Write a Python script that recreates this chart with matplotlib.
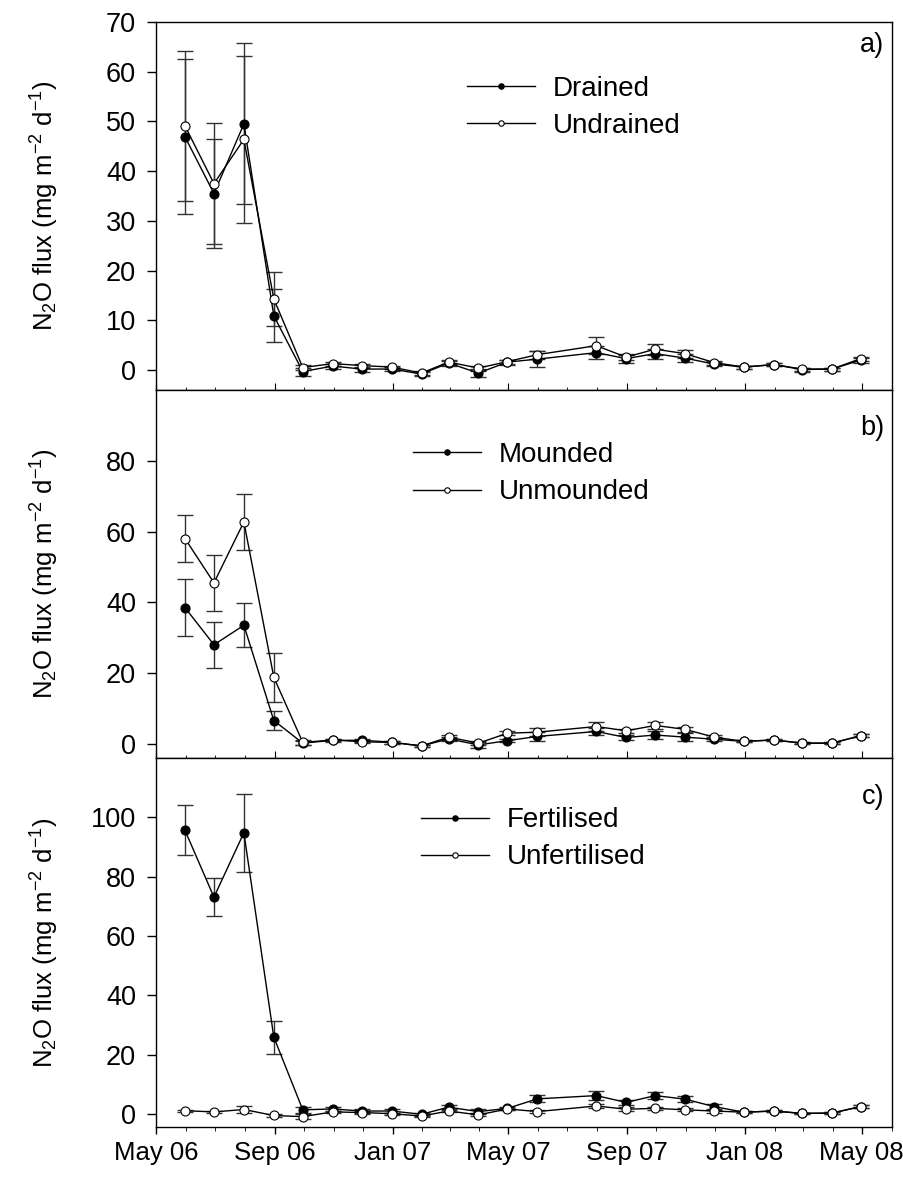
import matplotlib
matplotlib.use("Agg")
import matplotlib.pyplot as plt
import matplotlib.dates as mdates
import numpy as np
from datetime import datetime

plt.rcParams['font.family'] = ['Liberation Sans', 'DejaVu Sans']
plt.rcParams['mathtext.fontset'] = 'custom'
plt.rcParams['mathtext.rm'] = 'Liberation Sans'
plt.rcParams['mathtext.it'] = 'Liberation Sans:italic'

# sampling dates (end of month)
dates = ["2006-05-31", "2006-06-30", "2006-07-31", "2006-08-31", "2006-09-30",
         "2006-10-31", "2006-11-30", "2006-12-31", "2007-01-31", "2007-02-28",
         "2007-03-31", "2007-04-30", "2007-05-31", "2007-07-31", "2007-08-31",
         "2007-09-30", "2007-10-31", "2007-11-30", "2007-12-31", "2008-01-31",
         "2008-02-29", "2008-03-31", "2008-04-30"]

# panel a
drained = [46.9, 35.5, 49.5, 10.9, -0.3, 0.8, 0.2, 0.2, -0.8, 1.4, -0.6, 1.6,
           2.2, 3.5, 2.3, 3.3, 2.4, 1.2, 0.6, 1.1, 0.1, 0.2, 2.0]
drained_se = [15.6, 11.0, 16.2, 5.3, 0.8, 0.5, 0.5, 0.4, 0.4, 0.5, 0.8, 0.5,
              1.6, 1.3, 0.8, 1.0, 0.8, 0.4, 0.3, 0.3, 0.4, 0.3, 0.5]
undrained = [49.1, 37.5, 46.4, 14.3, 0.5, 1.3, 0.9, 0.6, -0.6, 1.6, 0.4, 1.7,
             3.1, 4.9, 2.6, 4.2, 3.3, 1.5, 0.6, 1.1, 0.2, 0.2, 2.3]
undrained_se = [15.1, 12.2, 16.8, 5.4, 0.5, 0.4, 0.4, 0.3, 0.4, 0.4, 0.5, 0.4,
                0.8, 1.7, 0.6, 1.1, 0.8, 0.4, 0.3, 0.3, 0.3, 0.3, 0.4]

# panel b
mounded = [38.5, 28.0, 33.5, 6.6, 0.2, 1.0, 1.0, 0.5, -0.6, 1.4, -0.3, 0.9,
           2.1, 3.5, 1.8, 2.5, 1.9, 1.3, 0.7, 1.1, 0.2, 0.2, 2.3]
mounded_se = [8.0, 6.5, 6.2, 2.7, 0.5, 0.5, 0.5, 0.4, 0.4, 0.5, 0.8, 0.5,
              1.3, 1.0, 0.8, 1.0, 1.2, 0.5, 0.3, 0.3, 0.3, 0.3, 0.4]
unmounded = [58.0, 45.5, 62.7, 18.8, 0.4, 1.1, 0.6, 0.4, -0.6, 1.9, 0.2, 3.0,
             3.3, 4.9, 3.7, 5.2, 4.1, 1.9, 0.7, 1.1, 0.2, 0.2, 2.3]
unmounded_se = [6.6, 7.9, 8.0, 6.9, 0.6, 0.4, 0.4, 0.3, 0.3, 0.5, 0.5, 0.5,
                1.1, 1.4, 0.5, 1.1, 0.8, 0.5, 0.3, 0.3, 0.3, 0.3, 0.4]

# panel c
fertilised = [95.6, 73.1, 94.8, 25.9, 1.4, 1.7, 1.0, 1.0, -0.1, 2.3, 0.8, 1.9,
              5.1, 6.2, 3.9, 6.2, 5.0, 2.5, 0.6, 1.0, 0.2, 0.3, 2.5]
fertilised_se = [8.4, 6.5, 13.2, 5.6, 1.0, 0.8, 0.6, 0.6, 0.5, 0.6, 0.8, 0.6,
                 1.2, 1.5, 0.8, 1.1, 1.0, 0.8, 0.4, 0.4, 0.3, 0.3, 0.5]
unfertilised = [1.1, 0.7, 1.5, -0.5, -0.9, 0.7, 0.5, 0.1, -0.7, 1.0, -0.3, 1.7,
                0.8, 2.7, 1.6, 1.9, 1.4, 1.0, 0.6, 1.0, 0.2, 0.3, 2.5]
unfertilised_se = [0.4, 0.3, 1.2, 0.5, 0.8, 0.4, 0.4, 0.4, 0.3, 0.4, 0.5, 0.4,
                   0.6, 0.8, 0.6, 0.6, 0.5, 0.5, 0.3, 0.3, 0.3, 0.3, 0.4]

x = [datetime.strptime(d, "%Y-%m-%d") for d in dates]

fig = plt.figure(figsize=(9.04, 11.82), dpi=100)
left, width = 0.1726, 0.8138
ax_a = fig.add_axes([left, 0.6701, width, 0.3113])
ax_b = fig.add_axes([left, 0.3587, width, 0.3114])
ax_c = fig.add_axes([left, 0.0465, width, 0.3122])

panels = [
    (ax_a, drained, drained_se, "Drained", undrained, undrained_se, "Undrained",
     (-4, 70), np.arange(0, 71, 10), "a)", 0.937, (0.4223, 0.768)),
    (ax_b, mounded, mounded_se, "Mounded", unmounded, unmounded_se, "Unmounded",
     (-4, 100), np.arange(0, 81, 20), "b)", 0.897, (0.3493, 0.7725)),
    (ax_c, fertilised, fertilised_se, "Fertilised", unfertilised, unfertilised_se,
     "Unfertilised", (-4.4, 120), np.arange(0, 101, 20), "c)", 0.894, (0.3598, 0.781)),
]

FS = 19.5
for ax, y1, e1, l1, y2, e2, l2, ylim, yt, tag, tag_y, leg_xy in panels:
    ax.errorbar(x, y1, yerr=e1, fmt='none', ecolor='#333333', elinewidth=1.0,
                capsize=5.5, capthick=1.0, zorder=2)
    ax.errorbar(x, y2, yerr=e2, fmt='none', ecolor='#333333', elinewidth=1.0,
                capsize=5.5, capthick=1.0, zorder=2)
    ax.plot(x, y1, '-o', color='black', lw=1.0, ms=6.5, mfc='black', mec='black',
            mew=0.8, label=l1, zorder=3)
    ax.plot(x, y2, '-o', color='black', lw=1.0, ms=6.5, mfc='white', mec='black',
            mew=0.8, label=l2, zorder=4)

    ax.set_xlim(datetime(2006, 5, 1), datetime(2008, 6, 1))
    ax.set_ylim(*ylim)
    ax.set_yticks(yt)
    ax.tick_params(axis='y', direction='out', length=6.5, width=1, labelsize=FS, pad=8)
    ax.xaxis.set_major_locator(mdates.MonthLocator(bymonth=[1, 5, 9]))
    ax.xaxis.set_minor_locator(mdates.MonthLocator())
    ax.xaxis.set_major_formatter(mdates.DateFormatter('%b %y'))
    for s in ax.spines.values():
        s.set_linewidth(1.0)

    ax.set_ylabel(r'N$_2$O flux (mg m$^{-2}$ d$^{-1}$)', fontsize=18.5)
    ax.yaxis.set_label_coords(-0.129, 0.5)

    ax.text(0.9895, tag_y, tag, transform=ax.transAxes, ha='right', va='center',
            fontsize=FS)
    ax.legend(loc='center left', bbox_to_anchor=leg_xy, frameon=False, fontsize=20,
              borderpad=0, borderaxespad=0, handlelength=2.45, handletextpad=0.65,
              labelspacing=0.4, markerscale=0.6)

for ax in (ax_a, ax_b):
    ax.tick_params(axis='x', which='major', direction='in', length=5, labelbottom=False)
    ax.tick_params(axis='x', which='minor', direction='in', length=2.5)

ax_c.tick_params(axis='x', which='major', direction='out', length=5, width=1,
                 labelsize=18.5, pad=5)
ax_c.tick_params(axis='x', which='minor', direction='out', length=3)

fig.savefig('out.png', dpi=100)
